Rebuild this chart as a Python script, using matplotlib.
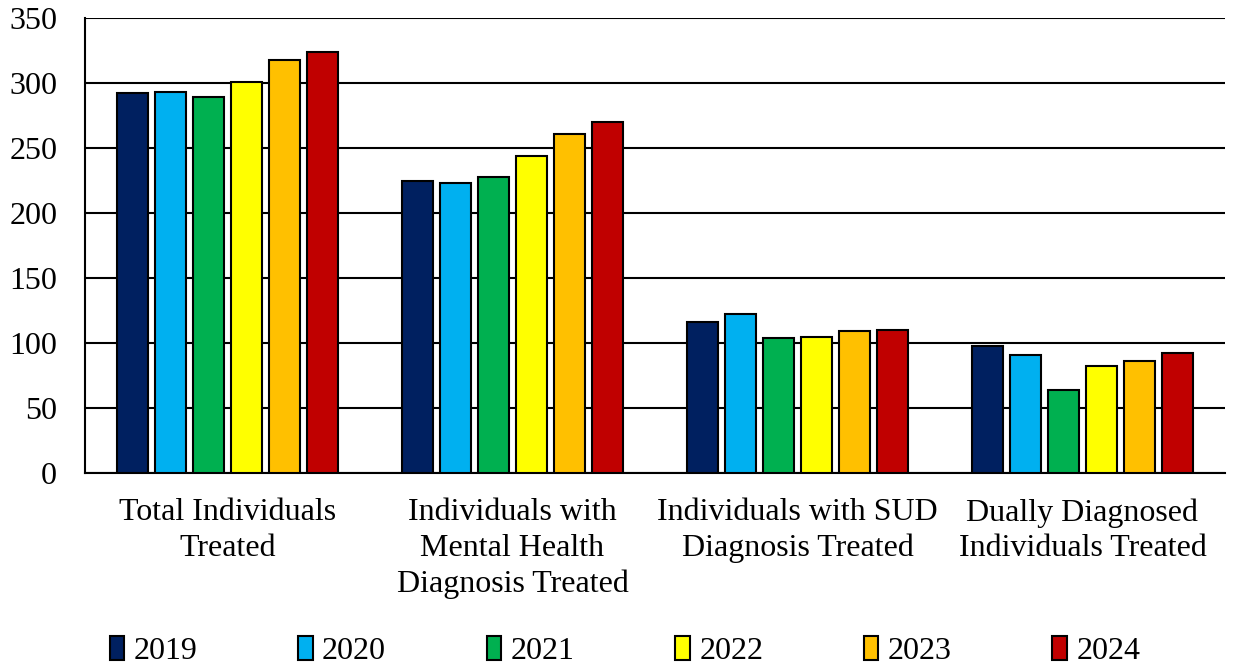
import numpy as np
import matplotlib
matplotlib.use("Agg")
import matplotlib.pyplot as plt

plt.rcParams["font.family"] = ["Liberation Serif", "DejaVu Serif"]

categories = ["Total Individuals\nTreated",
              "Individuals with\nMental Health\nDiagnosis Treated",
              "Individuals with SUD\nDiagnosis Treated",
              "Dually Diagnosed\nIndividuals Treated"]
years = ["2019", "2020", "2021", "2022", "2023", "2024"]
values_2019 = [292, 225, 116, 98]
values_2020 = [293, 223, 122, 91]
values_2021 = [289, 228, 104, 64]
values_2022 = [301, 244, 105, 82]
values_2023 = [318, 261, 109, 86]
values_2024 = [324, 270, 110, 92]
series = [values_2019, values_2020, values_2021, values_2022, values_2023, values_2024]
colors = ["#002060", "#00B0F0", "#00B050", "#FFFF00", "#FFC000", "#C00000"]

fig = plt.figure(figsize=(12.33, 6.67), dpi=100)
ax = fig.add_axes([85 / 1233, 1 - 473 / 667, 1140 / 1233, 455 / 667])

x = np.arange(len(categories))
pitch, width = 0.1333, 0.109
for j, (yr, vals, c) in enumerate(zip(years, series, colors)):
    ax.bar(x + (j - 2.5) * pitch, vals, width, color=c, edgecolor="black",
           linewidth=1.5, label=yr, zorder=3)

ax.set_xlim(-0.5, len(categories) - 0.5)
ax.set_ylim(0, 350)
ax.set_yticks(np.arange(0, 351, 50))
ax.yaxis.grid(True, color="black", lw=1.5, zorder=0)
ax.set_xticks(x)
ax.set_xticklabels(categories, fontsize=23, linespacing=1.3)
ax.tick_params(axis="y", labelsize=23, length=0, pad=20)
ax.tick_params(axis="x", length=0, pad=18)
for s in ("top", "right"):
    ax.spines[s].set_visible(False)
ax.spines["left"].set_linewidth(1.5)
ax.spines["bottom"].set_linewidth(1.5)

fig.legend(loc="center", bbox_to_anchor=(625 / 1233, 1 - 651 / 667), ncol=6,
           frameon=False, fontsize=23, handlelength=0.45, handleheight=0.8,
           handletextpad=0.3, columnspacing=3.15, borderpad=0)

fig.savefig("out.png", dpi=100)
